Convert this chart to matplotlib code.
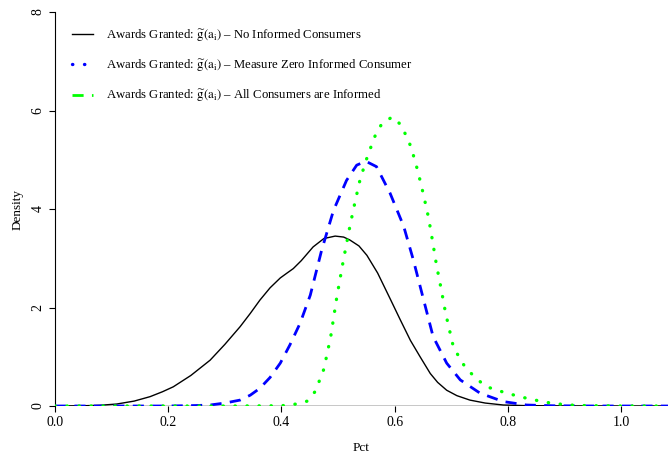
import numpy as np
import matplotlib.pyplot as plt
from matplotlib.lines import Line2D

plt.rcParams['font.family'] = ['Liberation Serif', 'DejaVu Serif']
plt.rcParams['mathtext.fontset'] = 'stix'

# density curves for the share of awards granted
black_x = [0.0, 0.05, 0.08, 0.109, 0.14, 0.168, 0.19, 0.209, 0.24, 0.274, 0.30, 0.327, 0.345,
           0.362, 0.38, 0.398, 0.41, 0.421, 0.435, 0.456, 0.475, 0.495, 0.51, 0.521, 0.537,
           0.551, 0.57, 0.592, 0.61, 0.628, 0.645, 0.663, 0.676, 0.692, 0.71, 0.733, 0.76,
           0.792, 0.83, 0.9, 1.0, 1.083]
black_y = [0.0, 0.005, 0.015, 0.04, 0.10, 0.19, 0.29, 0.39, 0.62, 0.93, 1.25, 1.61, 1.88,
           2.15, 2.40, 2.60, 2.70, 2.79, 2.95, 3.23, 3.40, 3.45, 3.43, 3.37, 3.25,
           3.06, 2.70, 2.18, 1.75, 1.33, 1.00, 0.66, 0.48, 0.32, 0.21, 0.12, 0.06,
           0.02, 0.008, 0.002, 0.0, 0.0]

blue_x = [0.0, 0.2, 0.25, 0.274, 0.30, 0.327, 0.345, 0.362, 0.38, 0.398, 0.415, 0.433, 0.451,
          0.471, 0.492, 0.515, 0.533, 0.549, 0.568, 0.592, 0.616, 0.633, 0.648, 0.668, 0.692,
          0.716, 0.751, 0.792, 0.833, 0.88, 0.95, 1.083]
blue_y = [0.0, 0.0, 0.01, 0.02, 0.06, 0.12, 0.22, 0.36, 0.58, 0.87, 1.24, 1.68, 2.25,
          3.16, 3.97, 4.58, 4.89, 4.97, 4.86, 4.32, 3.65, 2.97, 2.30, 1.41, 0.87,
          0.53, 0.26, 0.09, 0.02, 0.005, 0.0, 0.0]

green_x = [0.0, 0.3, 0.40, 0.426, 0.446, 0.46, 0.475, 0.487, 0.498, 0.509, 0.521, 0.530, 0.539,
           0.552, 0.567, 0.578, 0.596, 0.612, 0.629, 0.641, 0.651, 0.660, 0.667, 0.674, 0.682,
           0.690, 0.704, 0.726, 0.760, 0.798, 0.839, 0.880, 0.922, 1.0, 1.083]
green_y = [0.0, 0.0, 0.005, 0.04, 0.10, 0.30, 0.75, 1.4, 2.22, 2.93, 3.65, 4.14, 4.60,
           5.07, 5.53, 5.74, 5.87, 5.70, 5.26, 4.77, 4.29, 3.82, 3.35, 2.86, 2.39,
           1.89, 1.19, 0.76, 0.40, 0.26, 0.14, 0.05, 0.01, 0.0, 0.0]

xticks = [0.0, 0.2, 0.4, 0.6, 0.8, 1.0]
yticks = [0, 2, 4, 6, 8]

labels = [r'Awards Granted: $\widetilde{\mathrm{g}}(\mathrm{a_i})$ – No Informed Consumers',
          r'Awards Granted: $\widetilde{\mathrm{g}}(\mathrm{a_i})$ – Measure Zero Informed Consumer',
          r'Awards Granted: $\widetilde{\mathrm{g}}(\mathrm{a_i})$ – All Consumers are Informed']

fig = plt.figure(figsize=(6.68, 4.54), dpi=100)
ax = fig.add_axes([55/668, 48/454, 613/668, 394/454])

ax.axhline(0, color='#bebebe', lw=1.2, zorder=1)
ax.plot(black_x, black_y, color='black', lw=1.0, zorder=3)
ax.plot(blue_x, blue_y, color='blue', lw=2.0, linestyle=(0, (4, 3)), zorder=3)
ax.plot(green_x, green_y, color='#00ff00', lw=2.4, linestyle=(0, (0.1, 3.5)),
        dash_capstyle='round', zorder=3)

ax.set_xlim(0, 1.083)
ax.set_ylim(0, 8)
ax.set_xticks(xticks)
ax.set_xticklabels(['%.1f' % v for v in xticks])
ax.set_yticks(yticks)
ax.set_yticklabels([str(v) for v in yticks], rotation=90, va='center')
ax.tick_params(axis='both', length=4, width=0.8, labelsize=10, pad=3.5)

for s in ['top', 'right', 'bottom']:
    ax.spines[s].set_visible(False)
ax.spines['left'].set_bounds(0, 8)
ax.spines['left'].set_linewidth(0.8)

ax.set_xlabel('Pct', fontsize=9.5, labelpad=9)
ax.set_ylabel('Density', fontsize=9.5, labelpad=6)

handles = [Line2D([], [], color='black', lw=1.0),
           Line2D([], [], color='blue', lw=2.4, linestyle=(0, (0.1, 3.5)), dash_capstyle='round'),
           Line2D([], [], color='#00ff00', lw=2.0, linestyle=(0, (4, 3)))]
ax.legend(handles, labels, loc='upper left', bbox_to_anchor=(66/668, 1 - 21/454),
          bbox_transform=fig.transFigure, frameon=False, fontsize=9.2,
          handlelength=1.6, handletextpad=1.0, labelspacing=1.1, borderpad=0)

fig.savefig('out.png', dpi=100)
